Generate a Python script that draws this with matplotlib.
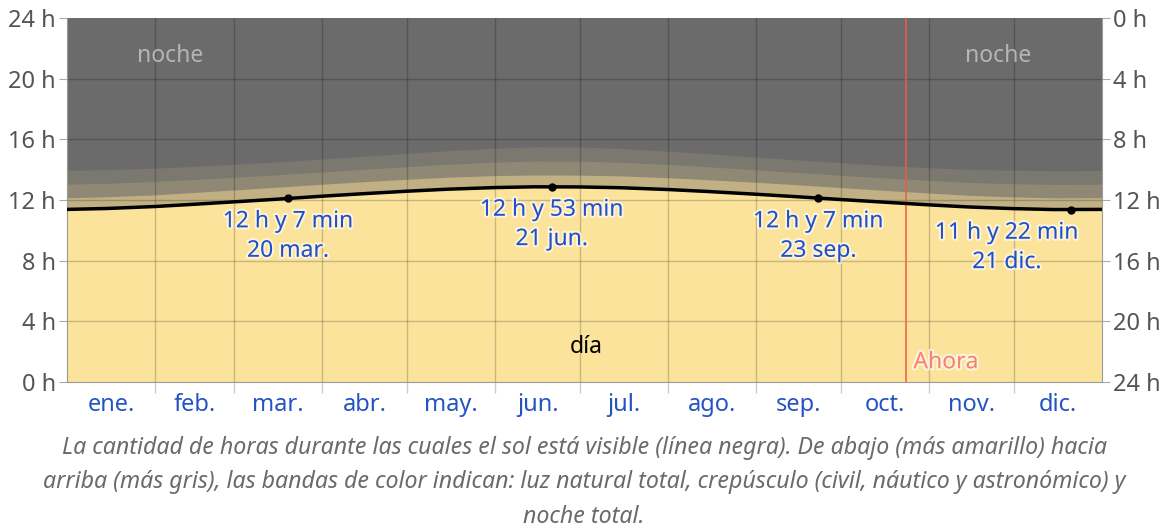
import matplotlib
matplotlib.use("Agg")
import matplotlib.pyplot as plt
import matplotlib.patheffects as pe

plt.rcParams['font.family'] = ['Noto Sans', 'DejaVu Sans']

# ---- data (day of year, hours) ----
days = [1, 15, 32, 46, 60, 74, 91, 105, 121, 135, 152, 166, 182, 196, 213,
        227, 244, 258, 274, 288, 305, 319, 335, 349, 366]
daylight = [11.38, 11.44, 11.57, 11.72, 11.88, 12.04, 12.25, 12.41, 12.58, 12.71,
            12.82, 12.87, 12.86, 12.81, 12.69, 12.56, 12.38, 12.22, 12.03, 11.87,
            11.68, 11.54, 11.43, 11.37, 11.38]
civil = [12.15, 12.21, 12.34, 12.50, 12.66, 12.83, 13.04, 13.20, 13.37, 13.50,
         13.61, 13.65, 13.64, 13.59, 13.47, 13.34, 13.17, 13.01, 12.82, 12.65,
         12.46, 12.31, 12.20, 12.14, 12.15]
nautical = [13.04, 13.10, 13.22, 13.36, 13.50, 13.65, 13.85, 14.02, 14.20, 14.35,
            14.50, 14.57, 14.56, 14.49, 14.34, 14.19, 13.99, 13.82, 13.63, 13.47,
            13.29, 13.16, 13.07, 13.03, 13.04]
astronomical = [13.95, 14.00, 14.10, 14.22, 14.36, 14.50, 14.70, 14.88, 15.08, 15.25,
                15.42, 15.50, 15.49, 15.40, 15.22, 15.05, 14.83, 14.65, 14.46, 14.30,
                14.13, 14.02, 13.96, 13.94, 13.95]

month_starts = [1, 32, 60, 91, 121, 152, 182, 213, 244, 274, 305, 335, 366]
month_labels = ['ene.', 'feb.', 'mar.', 'abr.', 'may.', 'jun.', 'jul.', 'ago.',
                'sep.', 'oct.', 'nov.', 'dic.']

marker_days = [79, 172, 266, 355]
marker_hours = [12 + 7/60, 12 + 53/60, 12 + 7/60, 11 + 22/60]
marker_texts = ['12 h y 7 min\n20 mar.', '12 h y 53 min\n21 jun.',
                '12 h y 7 min\n23 sep.', '11 h y 22 min\n21 dic.']

now_day = 297
left_ticks = [0, 4, 8, 12, 16, 20, 24]

# ---- figure ----
fig = plt.figure(figsize=(11.68, 5.29), dpi=100)
ax = fig.add_axes([67/1168, 1 - 382/529, (1102 - 67)/1168, (382 - 18)/529])

x0, x1 = 1, 366
ax.set_xlim(x0, x1)
ax.set_ylim(0, 24)

ax.axhspan(0, 24, color='#6b6b6b', zorder=0, lw=0)
ax.fill_between(days, 0, astronomical, color='#7b7870', lw=0, zorder=1)
ax.fill_between(days, 0, nautical, color='#8f8874', lw=0, zorder=1)
ax.fill_between(days, 0, civil, color='#c1b084', lw=0, zorder=1)
ax.fill_between(days, 0, daylight, color='#fbe39c', lw=0, zorder=1)

# grid
for m in month_starts[1:-1]:
    ax.axvline(m, color='black', alpha=0.2, lw=1, zorder=2)
for h in left_ticks[1:-1]:
    ax.axhline(h, color='black', alpha=0.2, lw=1, zorder=2)

ax.plot(days, daylight, color='black', lw=2.5, zorder=4, solid_capstyle='butt')
ax.plot(marker_days, marker_hours, 'o', color='black', ms=5, zorder=5)

glow = [pe.withStroke(linewidth=3, foreground='white', alpha=0.6)]
label_dx = [0, 0, 0, -46]
for d, h, t, dx in zip(marker_days, marker_hours, marker_texts, label_dx):
    ax.annotate(t, (d, h), xytext=(dx, -8), textcoords='offset points',
                ha='center', va='top', fontsize=16.5, color='#1f4fc9',
                linespacing=1.3, zorder=6, path_effects=glow)

# now line
ax.axvline(now_day, color='#f0584a', lw=1.3, alpha=0.85, zorder=3)
ax.text(now_day + 2.5, 1.3, 'Ahora', color='#f5836f', fontsize=16.5, zorder=6,
        ha='left', va='center', path_effects=glow)

ax.text(37.5, 21.5, 'noche', color='#b5b5b5', fontsize=16.5, ha='center', va='center', zorder=6)
ax.text(329.5, 21.5, 'noche', color='#b5b5b5', fontsize=16.5, ha='center', va='center', zorder=6)
ax.text(184, 2.3, 'día', color='black', fontsize=16.5, ha='center', va='center', zorder=6)

# axes styling
for s in ['top', 'right']:
    ax.spines[s].set_visible(False)
ax.spines['left'].set_color('#9a9a9a')
ax.spines['bottom'].set_color('#9a9a9a')

ax.set_xticks(month_starts[1:-1])
ax.set_xticklabels([])
ax.tick_params(axis='x', which='major', length=8, color='#cccccc', width=1)
mids = [(a + b) / 2 for a, b in zip(month_starts[:-1], month_starts[1:])]
ax.set_xticks(mids, minor=True)
ax.set_xticklabels(month_labels, minor=True)
ax.tick_params(axis='x', which='minor', length=0, pad=8, labelsize=17,
               labelcolor='#2553c4')

ax.set_yticks(left_ticks)
ax.set_yticklabels([f'{h} h' for h in left_ticks])
ax.tick_params(axis='y', length=6, color='#aaaaaa', labelsize=17,
               labelcolor='#555555', pad=2)

ax2 = ax.twinx()
ax2.set_ylim(24, 0)
ax2.set_yticks(left_ticks)
ax2.set_yticklabels([f'{h} h' for h in left_ticks])
ax2.tick_params(axis='y', length=6, color='#aaaaaa', labelsize=17,
                labelcolor='#555555', pad=2)
for s in ['top', 'left', 'bottom']:
    ax2.spines[s].set_visible(False)
ax2.spines['right'].set_color('#9a9a9a')

caption = ('La cantidad de horas durante las cuales el sol está visible (línea negra). De abajo (más amarillo) hacia\n'
           'arriba (más gris), las bandas de color indican: luz natural total, crepúsculo (civil, náutico y astronómico) y\n'
           'noche total.')
fig.text(0.5, 1 - 436/529, caption, ha='center', va='top', fontsize=16.7,
         style='italic', color='#6a6a6a', linespacing=1.58)

fig.savefig('out.png', dpi=100)
